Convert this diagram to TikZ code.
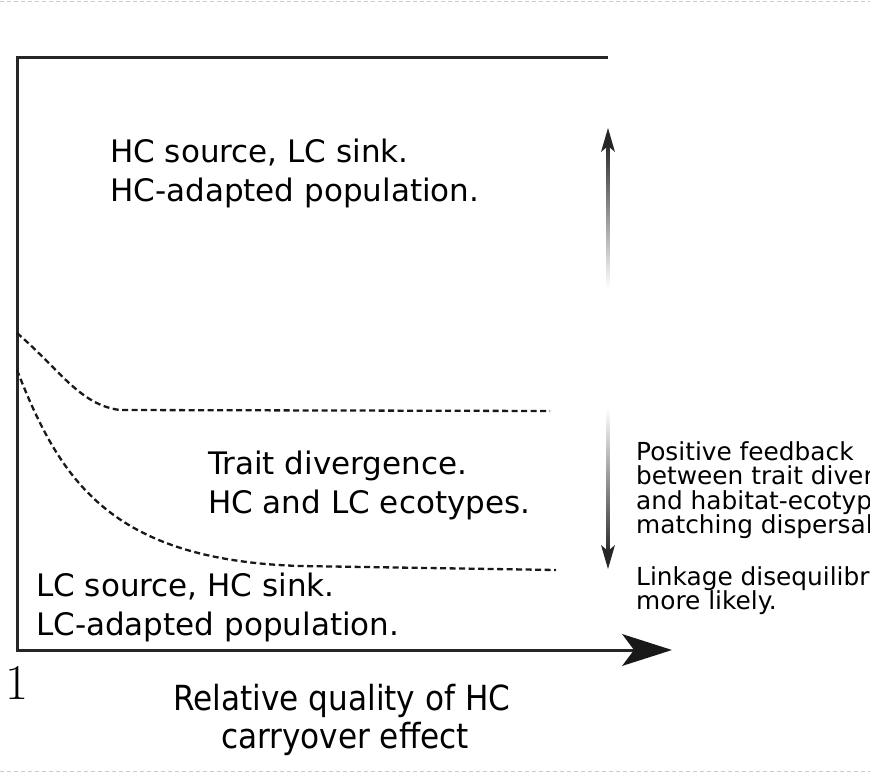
\documentclass[tikz,border=0pt]{standalone}
\usepackage{fontspec}
\setmainfont{DejaVu Sans}
\newfontfamily\condfont{DejaVu Sans Condensed}
\usetikzlibrary{shadings}
\begin{document}
\begin{tikzpicture}[x=1pt,y=-1pt,
  region/.style={anchor=base west,inner sep=0pt,font=\fontsize{31}{34}\selectfont},
  note/.style={anchor=base west,inner sep=0pt,font=\fontsize{24.8}{26}\selectfont},
  axisline/.style={line width=3pt,draw=black!85},
  bound/.style={dashed,draw=black!20,line width=0.8pt,dash pattern=on 4pt off 3pt},
  curve/.style={line width=2.3pt,dash pattern=on 6pt off 3.5pt,draw=black!90}]
\useasboundingbox (0,0) rectangle (870,773);
\clip (0,0) rectangle (870,773);
% page borders
\coordinate (tl) at (0,1.5);
\coordinate (tr) at (870,1.5);
\coordinate (bl) at (0,771);
\coordinate (br) at (870,771);
\draw[bound] (tl) -- (tr);
\draw[bound] (bl) -- (br);
% axes
\coordinate (top) at (608,58);
\coordinate (corner) at (17,58);
\coordinate (origin) at (17,650);
\coordinate (xend) at (636,650);
\draw[axisline] (top) -- (corner) -- (origin) -- (xend);
\fill[black!90] (672,650) -- (622,634) -- (634,650) -- (622,666) -- cycle;
% dashed boundaries
\coordinate (u0) at (17,333);
\coordinate (u1) at (550,411);
\coordinate (l0) at (17,370);
\coordinate (l1) at (556,570);
\draw[curve] (u0) .. controls (60,370) and (80,405) .. (120,410) -- (u1);
\draw[curve] (l0) .. controls (60,480) and (110,560) .. (300,566) -- (l1);
% gradient arrows
\shade[top color=black!85,bottom color=white] (606.5,140) rectangle (609.5,288);
\fill[black!85] (608,128) -- (601,152) -- (608,146) -- (615,152) -- cycle;
\shade[top color=white,bottom color=black!85] (606.5,408) rectangle (609.5,556);
\fill[black!85] (608,569) -- (601,545) -- (608,551) -- (615,545) -- cycle;
% region labels
\node[region] (hc1) at (110,163) {HC source, LC sink.};
\node[region] (hc2) at (110,201) {HC-adapted population.};
\node[region] (tr1) at (208,474) {Trait divergence.};
\node[region] (tr2) at (208,513) {HC and LC ecotypes.};
\node[region] (lc1) at (36,596) {LC source, HC sink.};
\node[region] (lc2) at (36,635) {LC-adapted population.};
% notes
\node[note] (n1) at (636,460) {Positive feedback};
\node[note] (n2) at (636,484.5) {between trait divergence};
\node[note] (n3) at (636,509) {and habitat-ecotype};
\node[note] (n4) at (636,533.5) {matching dispersal.};
\node[note] (n5) at (636,585) {Linkage disequilibrium};
\node[note] (n6) at (636,609.5) {more likely.};
% axis labels
\node[anchor=base,inner sep=0pt,font=\fontsize{50}{50}\selectfont] (one) at (17,699) {\fontspec{Latin Modern Roman}1};
\node[anchor=base,inner sep=0pt,font=\condfont\fontsize{34.6}{36}\selectfont] (xl1) at (342,710) {Relative quality of HC};
\node[anchor=base,inner sep=0pt,font=\condfont\fontsize{34.6}{36}\selectfont] (xl2) at (345,748) {carryover effect};
\end{tikzpicture}
\end{document}
